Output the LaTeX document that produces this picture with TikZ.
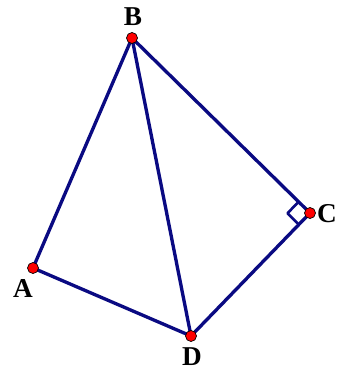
\documentclass[tikz,border=0pt]{standalone}
\usepackage{fontspec}
\setmainfont{Liberation Serif}
\usepackage{tikz}
\usepackage{xcolor}
\definecolor{EdgeBlue}{RGB}{10,10,130}
\usetikzlibrary{positioning,calc}

\begin{document}
\begin{tikzpicture}[x=0.02cm, y=-0.02cm,
    edge/.style={draw=EdgeBlue, line width=1.9pt, line join=round},
    vtx/.style={circle, draw=black, fill=red, line width=0.4pt,
                inner sep=0pt, minimum size=0.22cm},
    lbl/.style={inner sep=0pt, font=\fontsize{15.5}{15.5}\selectfont\bfseries}
]
    \useasboundingbox (0,0) rectangle (337,371);
    \coordinate (A) at (33,268);
    \coordinate (B) at (132,38);
    \coordinate (C) at (310,213);
    \coordinate (D) at (191,336);
    % sides and diagonal
    \draw[edge] (A) -- (B) -- (C) -- (D) -- cycle;
    \draw[edge] (B) -- (D);
    % right angle at C
    \coordinate (mb) at ($(C)!0.32cm!(B)$);
    \coordinate (md) at ($(C)!0.32cm!(D)$);
    \draw[edge, line width=1.5pt] (mb) -- ($(mb)+(md)-(C)$) -- (md);
    % points
    \node[vtx] (pA) at (A) {};
    \node[vtx] (pB) at (B) {};
    \node[vtx] (pC) at (C) {};
    \node[vtx] (pD) at (D) {};
    \node[lbl] (lA) at (23,289) {A};
    \node[lbl] (lB) at (133,17) {B};
    \node[lbl] (lC) at (327,214) {C};
    \node[lbl] (lD) at (192,357) {D};
\end{tikzpicture}
\end{document}
